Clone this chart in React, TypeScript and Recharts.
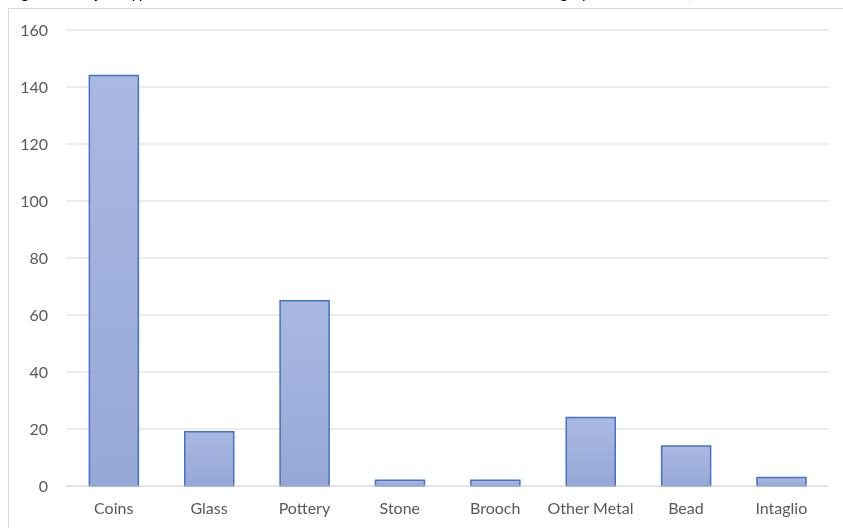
import React from 'react';
import { BarChart, Bar, XAxis, YAxis, CartesianGrid } from 'recharts';

const categories = ['Coins', 'Glass', 'Pottery', 'Stone', 'Brooch', 'Other Metal', 'Bead', 'Intaglio'];
const counts = [144, 19, 65, 2, 2, 24, 14, 3];
const yTicks = [0, 20, 40, 60, 80, 100, 120, 140, 160];
const titleText =
  'Figure 3: Object types at the site and the related numbers of artefacts according by the database (after the records of the museum)';

const data = categories.map((name, i) => ({ name, value: counts[i] }));

const FONT = 'Lato, "Liberation Sans", sans-serif';

export default function App() {
  return (
    <div>
      <div
        style={{
          position: 'fixed',
          left: 8,
          top: -18,
          fontFamily: 'Lato, sans-serif',
          fontSize: 16,
          lineHeight: 'normal',
          color: '#000',
          whiteSpace: 'nowrap',
        }}
      >
        {titleText}
      </div>
      <div
        style={{
          position: 'fixed',
          left: 8,
          top: 8,
          width: 835,
          height: 520,
          overflow: 'hidden',
        }}
      >
        <div
          style={{
            position: 'absolute',
            left: 0,
            top: 0,
            width: 840,
            height: 530,
            border: '1px solid #d9d9d9',
            background: '#fff',
          }}
        >
          <BarChart
            width={840}
            height={527}
            data={data}
            margin={{ top: 21, right: 20, bottom: 10, left: 0 }}
            barCategoryGap="24.5%"
          >
            <defs>
              <linearGradient id="barFill" x1="0" y1="0" x2="0" y2="1">
                <stop offset="0%" stopColor="#aab9e1" />
                <stop offset="100%" stopColor="#97a8d8" />
              </linearGradient>
            </defs>
            <CartesianGrid vertical={false} stroke="#d9d9d9" strokeWidth={1} />
            <XAxis
              dataKey="name"
              axisLine={{ stroke: '#d9d9d9' }}
              tickLine={false}
              tickSize={0}
              tickMargin={17}
              height={40}
              interval={0}
              tick={{ fill: '#595959', fontSize: 16, fontFamily: FONT }}
            />
            <YAxis
              domain={[0, 160]}
              ticks={yTicks}
              axisLine={false}
              tickLine={false}
              tickSize={0}
              tickMargin={18}
              width={57}
              tick={{ fill: '#595959', fontSize: 16, fontFamily: FONT }}
            />
            <Bar
              dataKey="value"
              fill="url(#barFill)"
              stroke="#4472c4"
              strokeWidth={1.5}
              isAnimationActive={false}
            />
          </BarChart>
        </div>
      </div>
    </div>
  );
}
